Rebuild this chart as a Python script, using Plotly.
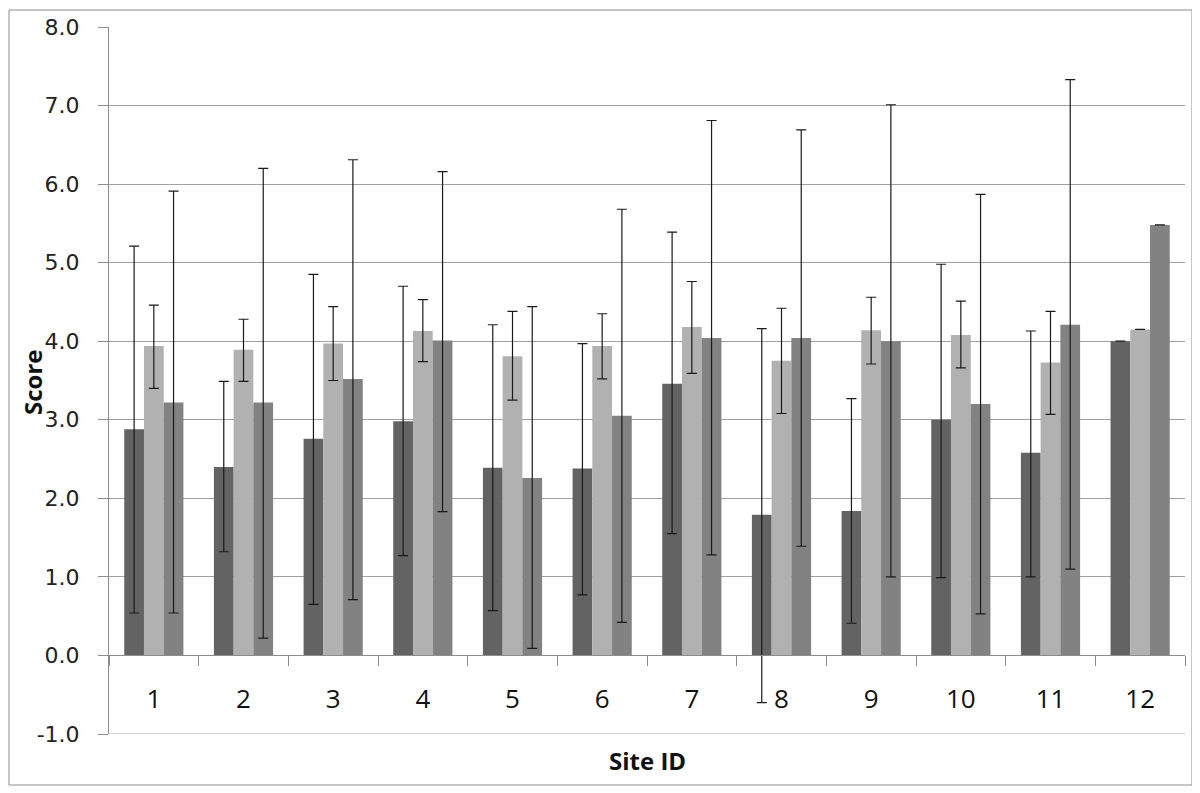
import plotly.graph_objects as go

# Site IDs on the category axis
sites = [str(i) for i in range(1, 13)]

# Series 1 (dark grey) mean score and error bar ends
dark_mean = [2.88, 2.40, 2.76, 2.98, 2.39, 2.38, 3.46, 1.79, 1.84, 3.00, 2.58, 4.00]
dark_hi = [5.21, 3.49, 4.85, 4.70, 4.21, 3.97, 5.39, 4.16, 3.27, 4.98, 4.13, 4.00]
dark_lo = [0.54, 1.32, 0.65, 1.27, 0.57, 0.77, 1.55, -0.60, 0.41, 0.99, 1.00, 4.00]

# Series 2 (light grey)
light_mean = [3.94, 3.89, 3.97, 4.13, 3.81, 3.94, 4.18, 3.75, 4.14, 4.08, 3.73, 4.15]
light_hi = [4.46, 4.28, 4.44, 4.53, 4.38, 4.35, 4.76, 4.42, 4.56, 4.51, 4.38, 4.15]
light_lo = [3.40, 3.49, 3.50, 3.74, 3.25, 3.52, 3.59, 3.08, 3.71, 3.66, 3.07, 4.15]

# Series 3 (mid grey)
mid_mean = [3.22, 3.22, 3.52, 4.01, 2.26, 3.05, 4.04, 4.04, 4.00, 3.20, 4.21, 5.48]
mid_hi = [5.91, 6.20, 6.31, 6.16, 4.44, 5.68, 6.81, 6.69, 7.01, 5.87, 7.33, 5.48]
mid_lo = [0.54, 0.22, 0.71, 1.83, 0.09, 0.42, 1.28, 1.39, 1.00, 0.53, 1.10, 5.48]

y_ticks = [-1, 0, 1, 2, 3, 4, 5, 6, 7, 8]
y_tick_labels = ["-1.0", "0.0", "1.0", "2.0", "3.0", "4.0", "5.0", "6.0", "7.0", "8.0"]

series = [
    (dark_mean, dark_hi, dark_lo, "#636363"),
    (light_mean, light_hi, light_lo, "#b1b1b1"),
    (mid_mean, mid_hi, mid_lo, "#828282"),
]

fig = go.Figure()
for mean, hi, lo, color in series:
    fig.add_trace(go.Bar(
        x=sites,
        y=mean,
        marker=dict(color=color, line=dict(width=0)),
        error_y=dict(
            type="data",
            symmetric=False,
            array=[h - m for h, m in zip(hi, mean)],
            arrayminus=[m - l for m, l in zip(mean, lo)],
            color="#1a1a1a",
            thickness=1.2,
            width=5,
        ),
        showlegend=False,
    ))

grey = "#8c8c8c"
# the page body adds an 8px margin, so the figure is laid out in page pixels minus 8
OFF = 8
W, H = 1186, 778
L, R, T, B = 109 - OFF, 1186 - (1185 - OFF), 27 - OFF, 778 - (734 - OFF)
pw, ph = W - L - R, H - T - B

def px_x(p):
    return (p - OFF - L) / pw

def px_y(p):
    return (H - B - (p - OFF)) / ph

fig.update_layout(
    width=W, height=H,
    margin=dict(l=L, r=R, t=T, b=B),
    paper_bgcolor="white",
    plot_bgcolor="white",
    barmode="group",
    bargap=0.34,
    bargroupgap=0,
    xaxis=dict(
        type="category",
        anchor="free",
        position=1 / 9,
        automargin=False,
        showline=True, linecolor=grey, linewidth=1,
        ticks="outside", tickson="boundaries", ticklen=10, tickcolor=grey,
        showgrid=False,
        ticklabelstandoff=20,
        tickfont=dict(family="Open Sans", size=26, color="#111"),
    ),
    yaxis=dict(
        range=[-1, 8],
        tickvals=y_ticks,
        ticktext=y_tick_labels,
        automargin=False,
        showline=True, linecolor=grey, linewidth=1,
        ticks="outside", ticklen=10, tickcolor=grey,
        showgrid=True, gridcolor="#a0a0a0", gridwidth=1,
        zeroline=False,
        ticklabelstandoff=14,
        tickfont=dict(family="DejaVu Sans", size=22, color="#222"),
    ),
    shapes=[
        # chart frame
        dict(type="rect", xref="paper", yref="paper",
             x0=px_x(9), x1=px_x(1192), y0=px_y(785), y1=px_y(10),
             line=dict(color=grey, width=1), layer="below"),
        # bottom gridline at -1
        dict(type="line", xref="paper", yref="y", x0=0, x1=1, y0=-1, y1=-1,
             line=dict(color="#a0a0a0", width=1)),
    ],
    annotations=[
        dict(text="<b>Score</b>", xref="paper", yref="paper",
             x=px_x(32), y=px_y(382), textangle=-90, showarrow=False,
             xanchor="center", yanchor="middle",
             font=dict(family="Open Sans", size=24, color="#111")),
        dict(text="<b>Site ID</b>", xref="paper", yref="paper",
             x=0.5, y=px_y(760), showarrow=False,
             xanchor="center", yanchor="middle",
             font=dict(family="Open Sans", size=24, color="#111")),
    ],
)

fig.write_html("out.html")
